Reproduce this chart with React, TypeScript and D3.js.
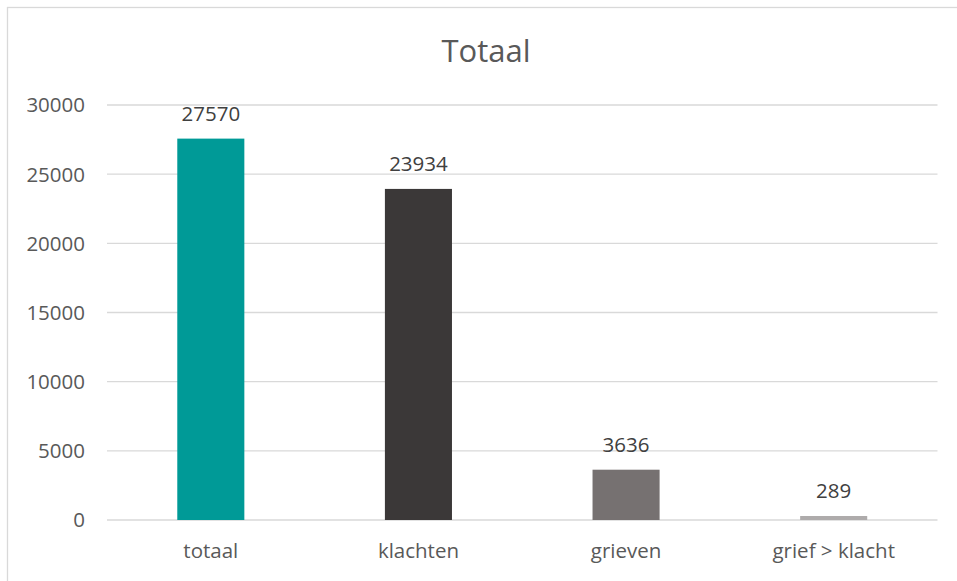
import React from "react";
import * as d3 from "d3";

const categories = ["totaal", "klachten", "grieven", "grief > klacht"];
const values = [27570, 23934, 3636, 289];
const barColors = ["#009A97", "#3B3838", "#767171", "#AEABAB"];
const yTicks = [0, 5000, 10000, 15000, 20000, 25000, 30000];
const title = "Totaal";

const W = 957;
const H = 581;
const FONT = "'Open Sans', sans-serif";
const TEXT = "#595959";

export default function App() {
  const x = d3
    .scaleBand<string>()
    .domain(categories)
    .range([107, 937.5])
    .paddingInner(0.677)
    .paddingOuter(0.3385);
  const y = d3.scaleLinear().domain([0, 30000]).range([520, 105]);

  return (
    <svg
      width={W}
      height={H}
      style={{ position: "absolute", left: 0, top: 0, background: "#fff" }}
      fontFamily={FONT}
    >
      <rect x={0} y={0} width={W} height={H} fill="#fff" />
      <rect x={7.5} y={7.5} width={1000} height={1000} fill="#fff" stroke="#D9D9D9" strokeWidth={1.3} />
      <text x={486} y={62} textAnchor="middle" fontSize={31} fill={TEXT}>
        {title}
      </text>
      {yTicks.map((t) => (
        <g key={t}>
          <line x1={107} x2={937.5} y1={y(t)} y2={y(t)} stroke="#D9D9D9" strokeWidth={1.3} />
          <text x={85} y={y(t)} dy="0.36em" textAnchor="end" fontSize={20.5} fill={TEXT}>
            {t}
          </text>
        </g>
      ))}
      {categories.map((c, i) => {
        const bx = x(c)!;
        const bw = x.bandwidth();
        const top = y(values[i]);
        return (
          <g key={c}>
            <rect x={bx} y={top} width={bw} height={y(0) - top} fill={barColors[i]} />
            <text x={bx + bw / 2} y={top - 18} textAnchor="middle" fontSize={20.5} fill="#404040">
              {values[i]}
            </text>
            <text x={bx + bw / 2} y={558} textAnchor="middle" fontSize={20.5} fill={TEXT}>
              {c}
            </text>
          </g>
        );
      })}
    </svg>
  );
}
